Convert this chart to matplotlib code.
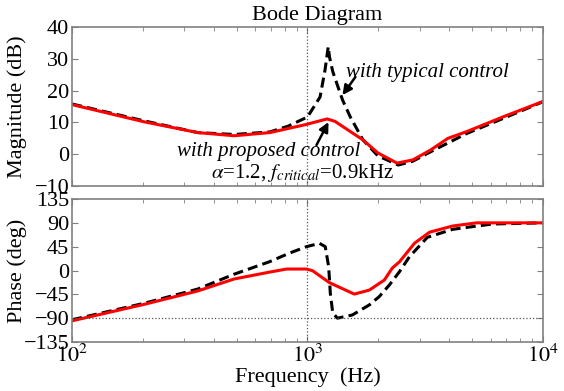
import matplotlib
matplotlib.use("Agg")
import matplotlib.pyplot as plt
import numpy as np
from matplotlib.ticker import LogLocator, NullFormatter

plt.rcParams['font.family'] = ['Liberation Serif', 'DejaVu Serif']
plt.rcParams['mathtext.fontset'] = 'stix'

# Magnitude data (dB)
freq_mag_typ = [100, 202, 342, 488, 692, 826, 1000, 1131, 1187, 1225, 1240, 1280, 1350, 1410, 1520, 1720, 1990, 2430, 2800, 3340, 4740, 6800, 10000]
mag_typ = [15.8, 10.5, 6.8, 6.2, 7.0, 8.8, 11.7, 18.0, 26.5, 33.8, 30.6, 26.0, 21.0, 17.0, 11.7, 4.5, -0.5, -3.4, -2.2, 0.8, 6.5, 11.3, 16.5]
freq_mag_prop = [100, 202, 342, 488, 692, 980, 1212, 1310, 1720, 1990, 2400, 2800, 3330, 3950, 4740, 6800, 10000]
mag_prop = [15.6, 10.2, 6.8, 5.8, 6.8, 9.3, 11.1, 10.3, 4.5, 0.4, -2.8, -1.8, 1.3, 5.0, 7.1, 11.8, 16.6]

# Phase data (deg)
freq_ph_typ = [100, 202, 342, 488, 690, 840, 990, 1125, 1190, 1230, 1250, 1280, 1340, 1550, 1830, 2020, 2230, 2460, 2710, 3230, 4130, 4990, 6100, 10000]
ph_typ = [-93, -62, -35, -7, 16.6, 33, 45, 51.3, 45, 7, -43, -80, -90, -84, -65, -49, -27, -2, 26, 62.7, 77.7, 82.7, 87.8, 90]
freq_ph_prop = [100, 202, 342, 488, 690, 815, 990, 1050, 1240, 1580, 1830, 2120, 2290, 2460, 2850, 3300, 4130, 5220, 10000]
ph_prop = [-95, -64, -38.6, -16, -3, 2.8, 2.8, -0.3, -23, -44.5, -37, -18, 4.5, 16.6, 51.7, 72.4, 84, 90, 90]

fig = plt.figure(figsize=(5.64, 3.91), dpi=100)
ax1 = fig.add_axes([0.1277, 0.5243, 0.835, 0.4066])
ax2 = fig.add_axes([0.1277, 0.1253, 0.835, 0.3657])

frame_col = '#808080'
for ax in (ax1, ax2):
    ax.set_xscale('log')
    ax.set_xlim(100, 10000)
    for s in ax.spines.values():
        s.set_color(frame_col)
        s.set_linewidth(1.2)
    ax.tick_params(which='both', direction='in', top=True, right=True, color=frame_col, labelsize=16, pad=2)
    ax.tick_params(which='major', length=4)
    ax.tick_params(which='minor', length=3)
    ax.xaxis.set_minor_locator(LogLocator(base=10, subs=np.arange(2, 10)))
    ax.xaxis.set_minor_formatter(NullFormatter())
    ax.axvline(1000, color='#555555', linestyle=':', linewidth=0.9)
    ax.yaxis.set_label_coords(-0.0955, 0.5)

ax1.plot(freq_mag_typ, mag_typ, color='black', linestyle='--', linewidth=2.2, dashes=(3.3, 1.7))
ax1.plot(freq_mag_prop, mag_prop, color='red', linewidth=2.2)
ax1.set_ylim(-10, 40)
ax1.set_yticks([-10, 0, 10, 20, 30, 40])
ax1.set_xticklabels([])
ax1.set_ylabel('Magnitude (dB)', fontsize=16)
ax1.text(0.52, 1.01, 'Bode Diagram', transform=ax1.transAxes, fontsize=16, ha='center', va='bottom')

arrow_kw = dict(arrowstyle='-|>', color='black', lw=1.8, mutation_scale=14, shrinkA=0, shrinkB=0)
ax1.text(1464, 25.8, 'with typical control', fontsize=15, style='italic', ha='left', va='center')
ax1.annotate('', xy=(1408, 18.6), xytext=(1598, 24.3), arrowprops=arrow_kw)
ax1.text(1679, 0.7, 'with proposed control', fontsize=15, style='italic', ha='right', va='center')
ax1.annotate('', xy=(1228, 10.1), xytext=(1092, 2.9), arrowprops=arrow_kw)
ax1.text(952, -5.9, r'$\alpha$=1.2, $f_{critical}$=0.9kHz', fontsize=15, ha='center', va='center')

ax2.plot(freq_ph_typ, ph_typ, color='black', linestyle='--', linewidth=2.2, dashes=(3.3, 1.7))
ax2.plot(freq_ph_prop, ph_prop, color='red', linewidth=2.2)
ax2.axhline(-90, color='#555555', linestyle=':', linewidth=0.9)
ax2.set_ylim(-135, 135)
ax2.set_yticks([-135, -90, -45, 0, 45, 90, 135])
ax2.set_ylabel('Phase (deg)', fontsize=16)
ax2.set_xlabel('Frequency  (Hz)', fontsize=16, labelpad=0)
ax2.set_xticks([100, 1000, 10000])
ax2.set_xticklabels([r'$10^2$', r'$10^3$', r'$10^4$'])

fig.savefig('out.png', dpi=100)
